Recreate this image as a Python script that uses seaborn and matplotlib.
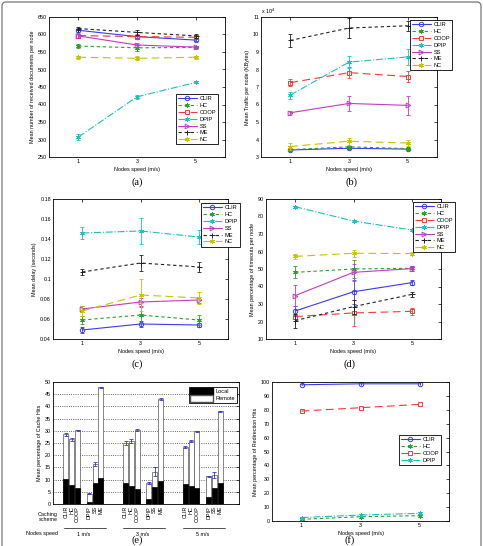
import matplotlib
matplotlib.use("Agg")
import pandas as pd
import matplotlib.pyplot as plt
import seaborn as sns
from matplotlib.lines import Line2D
from matplotlib.patches import Patch, FancyBboxPatch
from matplotlib.transforms import blended_transform_factory


SPEEDS = [1, 3, 5]

# (a) mean number of received documents per node
DOCS = {
	"CLIR": [612, 594, 584],
	"HC": [567, 562, 563],
	"COOP": [597, 594, 592],
	"DPIP": [307, 422, 463],
	"SS": [596, 570, 564],
	"ME": [617, 606, 596],
	"NC": [535, 532, 535],
}
DOCS_ERR = {
	"CLIR": [5, 5, 4], "HC": [5, 8, 4], "COOP": [6, 6, 5], "DPIP": [8, 6, 3],
	"SS": [5, 6, 4], "ME": [5, 8, 5], "NC": [4, 6, 4],
}

# (b) mean traffic per node, x 10^4 KBytes
TRAFFIC = {
	"CLIR": [3.40, 3.50, 3.45],
	"HC": [3.42, 3.58, 3.48],
	"COOP": [7.25, 7.82, 7.60],
	"DPIP": [6.54, 8.42, 8.72],
	"SS": [5.53, 6.06, 5.95],
	"ME": [9.66, 10.37, 10.50],
	"NC": [3.60, 3.90, 3.80],
}
TRAFFIC_ERR = {
	"CLIR": [0.05, 0.06, 0.06], "HC": [0.05, 0.06, 0.06], "COOP": [0.2, 0.3, 0.3],
	"DPIP": [0.2, 0.35, 0.45], "SS": [0.12, 0.45, 0.55], "ME": [0.35, 0.55, 0.3],
	"NC": [0.2, 0.2, 0.15],
}

# (c) mean delay (seconds)
DELAY = {
	"CLIR": [0.049, 0.055, 0.054],
	"HC": [0.059, 0.064, 0.059],
	"DPIP": [0.146, 0.148, 0.142],
	"SS": [0.070, 0.077, 0.079],
	"ME": [0.107, 0.116, 0.112],
	"NC": [0.068, 0.084, 0.081],
}
DELAY_ERR = {
	"CLIR": [0.003, 0.003, 0.002], "HC": [0.004, 0.008, 0.005], "DPIP": [0.006, 0.013, 0.007],
	"SS": [0.003, 0.004, 0.003], "ME": [0.003, 0.008, 0.005], "NC": [0.005, 0.016, 0.006],
}

# (d) mean percentage of timeouts per node
TIMEOUTS = {
	"CLIR": [26.0, 37.0, 42.2],
	"HC": [48.1, 50.0, 50.4],
	"COOP": [22.8, 24.9, 25.8],
	"DPIP": [85.6, 77.4, 72.3],
	"SS": [34.8, 48.1, 50.2],
	"ME": [20.5, 28.5, 35.5],
	"NC": [57.2, 59.0, 58.8],
}
TIMEOUTS_ERR = {
	"CLIR": [3, 7, 1.5], "HC": [3.5, 5, 1.5], "COOP": [1.5, 7.5, 2], "DPIP": [0.5, 0.5, 0.5],
	"SS": [6, 5, 1.5], "ME": [4, 4, 1.5], "NC": [1.5, 2, 1],
}

# (e) cache hits, stacked local + remote
BAR_SCHEMES = ["CLIR", "HC", "COOP", "DPIP", "SS", "ME"]
BAR_SPEEDS = ["1 m/s", "3 m/s", "5 m/s"]
HITS_TOTAL = [
	[28.5, 26.5, 30.3, 4.3, 16.5, 47.8],
	[25.0, 25.8, 30.2, 8.7, 13.2, 43.0],
	[23.4, 25.8, 29.8, 11.3, 12.0, 38.0],
]
HITS_LOCAL = [
	[10.3, 7.7, 6.7, 1.0, 8.5, 10.8],
	[8.8, 7.3, 6.3, 2.0, 6.8, 9.6],
	[8.0, 7.3, 6.4, 2.7, 6.4, 8.5],
]
HITS_ERR = [
	[0.7, 0.5, 0.2, 0.1, 0.8, 0.3],
	[0.8, 1.0, 0.4, 0.3, 1.8, 0.4],
	[0.3, 0.3, 0.2, 0.1, 1.2, 0.3],
]

# (f) mean percentage of redirection hits
REDIRECT = {
	"CLIR": [98.0, 98.7, 98.7],
	"HC": [1.2, 3.1, 3.8],
	"COOP": [79.1, 81.5, 83.9],
	"DPIP": [2.5, 4.3, 5.5],
}

W, H = 483, 546

STYLE = {
	"CLIR": ("#3a3aef", "-", "o", 3.2),
	"HC": ("#2e9e2e", (0, (3, 2.5)), (6, 2, 0), 3.2),
	"COOP": ("#ee3b3b", (0, (7, 4)), "s", 3.4),
	"DPIP": ("#1fbfbf", "-.", (6, 2, 0), 3.2),
	"SS": ("#c03cc0", "-", ">", 3.4),
	"ME": ("#222222", (0, (3, 2.5)), "+", 3.6),
	"NC": ("#c4c400", (0, (7, 4)), (6, 2, 0), 3.4),
}

FS = 3.9


def axes_at(fig, left, top, right, bottom):
	return fig.add_axes([left / W, 1 - bottom / H, (right - left) / W, (bottom - top) / H])


def style_axes(ax):
	ax.tick_params(direction="in", length=2, width=0.5, top=True, right=True,
		labelsize=FS, pad=1.5, colors="black")
	for s in ax.spines.values():
		s.set_linewidth(0.6)
		s.set_color("black")


def add_legend(fig, ax, names, px, py):
	handles = []
	for n in names:
		c, ls, m, ms = STYLE[n]
		handles.append(Line2D([], [], color=c, linestyle=ls, marker=m, markersize=ms,
			markerfacecolor="none", markeredgecolor=c, markeredgewidth=0.7, linewidth=0.8))
	leg = ax.legend(handles, names, loc="upper left", bbox_to_anchor=(px / W, 1 - py / H),
		bbox_transform=fig.transFigure, borderaxespad=0, fontsize=FS + 0.2, frameon=True,
		fancybox=False, edgecolor="black", framealpha=1, handlelength=3.2,
		labelspacing=0.32, borderpad=0.4, handletextpad=0.5)
	leg.get_frame().set_linewidth(0.6)


def line_panel(ax, means, errs, ylim, yticks, ylabel):
	for name, vals in means.items():
		c, ls, m, ms = STYLE[name]
		sns.lineplot(x=SPEEDS, y=vals, ax=ax, color=c, linestyle=ls, marker=m,
			markersize=ms, markerfacecolor="none", markeredgecolor=c,
			markeredgewidth=0.7, linewidth=0.8, legend=False)
		if errs is not None:
			ax.errorbar(SPEEDS, vals, yerr=errs[name], fmt="none", ecolor=c,
				elinewidth=0.6, capsize=1.6, capthick=0.6)
	ax.set_xlim(0, 6)
	ax.set_xticks(SPEEDS)
	ax.set_ylim(*ylim)
	ax.set_yticks(yticks)
	ax.set_yticklabels([f"{v:g}" for v in yticks])
	ax.set_xlabel("Nodes speed (m/s)", fontsize=FS, labelpad=2)
	ax.set_ylabel(ylabel, fontsize=FS, labelpad=2)
	style_axes(ax)


def bar_panel(fig, ax):
	slots = [0, 1, 2, 4, 5, 6]
	rows = []
	for g, speed in enumerate(BAR_SPEEDS):
		for i, scheme in enumerate(BAR_SCHEMES):
			rows.append({
				"pos": g * 10.2 + slots[i],
				"scheme": scheme,
				"speed": speed,
				"total": HITS_TOTAL[g][i],
				"local": HITS_LOCAL[g][i],
				"err": HITS_ERR[g][i],
			})
	df = pd.DataFrame(rows)
	ax.set_axisbelow(True)
	ax.yaxis.grid(True, linestyle=":", color="#333333", linewidth=0.6)
	sns.barplot(data=df, x="pos", y="total", native_scale=True, width=0.85,
		color="white", edgecolor="#555555", linewidth=0.5, errorbar=None, ax=ax,
		saturation=1)
	sns.barplot(data=df, x="pos", y="local", native_scale=True, width=0.85,
		color="black", edgecolor="black", linewidth=0.5, errorbar=None, ax=ax,
		saturation=1)
	ax.errorbar(df["pos"], df["total"], yerr=df["err"], fmt="none", ecolor="#3535c8",
		elinewidth=0.6, capsize=1.4, capthick=0.6)
	ax.set_xlim(-2.2, 29.6)
	ax.set_ylim(0, 50)
	ax.set_yticks(range(0, 51, 5))
	ax.set_xticks(df["pos"])
	ax.set_xticklabels(df["scheme"], rotation=90, fontsize=FS)
	ax.set_xlabel("")
	ax.set_ylabel("Mean percentage of Cache Hits", fontsize=FS, labelpad=2)
	style_axes(ax)
	ax.tick_params(axis="x", length=0, pad=1.5, top=False)
	ax.grid(False, axis="x")
	leg = ax.legend([Patch(facecolor="black", edgecolor="black"),
		Patch(facecolor="white", edgecolor="#555555")], ["Local", "Remote"],
		loc="upper left", bbox_to_anchor=(189 / W, 1 - 387 / H), bbox_transform=fig.transFigure,
		borderaxespad=0, fontsize=FS + 0.2, fancybox=False, edgecolor="black", framealpha=1,
		handlelength=4, handleheight=1.3, labelspacing=0.15, borderpad=0.25, handletextpad=0.4)
	leg.get_frame().set_linewidth(0.6)
	# group labels under the scheme names
	tr = blended_transform_factory(ax.transData, fig.transFigure)
	for g, speed in enumerate(BAR_SPEEDS):
		start = g * 10.2
		ax.plot([start - 0.4, start + 6.8], [1 - 528 / H] * 2, color="#333333",
			linewidth=0.6, transform=tr, clip_on=False)
		ax.text(start + 3, 1 - 534 / H, speed, transform=tr, ha="center", va="center",
			fontsize=FS)
	fig.text(48 / W, 1 - 517 / H, "Caching\nscheme", ha="center", va="center",
		fontsize=FS, linespacing=1.2)
	fig.text(58 / W, 1 - 534 / H, "Nodes speed", ha="right", va="center", fontsize=FS)


def main():
	sns.set_theme(style="white")
	plt.rcParams["font.family"] = ["Liberation Sans", "DejaVu Sans"]
	plt.rcParams["text.color"] = "black"
	plt.rcParams["axes.labelcolor"] = "black"
	fig = plt.figure(figsize=(W / 100, H / 100), dpi=100)

	ax_a = axes_at(fig, 49, 17, 225, 157)
	line_panel(ax_a, DOCS, DOCS_ERR, (250, 650), list(range(250, 651, 50)),
		"Mean number of received documents per node")
	add_legend(fig, ax_a, list(DOCS), 176, 94)

	ax_b = axes_at(fig, 261, 17, 437, 157)
	line_panel(ax_b, TRAFFIC, TRAFFIC_ERR, (3, 11), list(range(3, 12)),
		"Mean Traffic per node (KBytes)")
	ax_b.text(0.0, 1.01, "x 10$^4$", transform=ax_b.transAxes, ha="left", va="bottom",
		fontsize=FS)
	add_legend(fig, ax_b, list(TRAFFIC), 410, 20)

	ax_c = axes_at(fig, 53, 199, 228, 339)
	line_panel(ax_c, DELAY, DELAY_ERR, (0.04, 0.18),
		[0.04, 0.06, 0.08, 0.1, 0.12, 0.14, 0.16, 0.18], "Mean delay (seconds)")
	add_legend(fig, ax_c, list(DELAY), 201, 203)

	ax_d = axes_at(fig, 266, 199, 441, 339)
	line_panel(ax_d, TIMEOUTS, TIMEOUTS_ERR, (10, 90), list(range(10, 91, 10)),
		"Mean percentage of timeouts per node")
	add_legend(fig, ax_d, list(TIMEOUTS), 413, 202)

	ax_e = axes_at(fig, 53, 382, 239, 504)
	bar_panel(fig, ax_e)

	ax_f = axes_at(fig, 272, 382, 449, 521)
	line_panel(ax_f, REDIRECT, None, (0, 100), list(range(0, 101, 10)),
		"Mean percentage of Redirection Hits")
	add_legend(fig, ax_f, list(REDIRECT), 399, 435)

	serif = ["Liberation Serif", "DejaVu Serif"]
	for label, x, y in [("(a)", 137, 182), ("(b)", 352, 182), ("(c)", 137, 364),
			("(d)", 350, 364), ("(e)", 137, 540), ("(f)", 350, 540)]:
		fig.text(x / W, 1 - y / H, label, ha="center", va="center", fontsize=7.5, family=serif)

	fig.patches.append(FancyBboxPatch((2 / W, -0.05), 479 / W, 1.05 - 2 / H,
		boxstyle="round,pad=0,rounding_size=0.008", transform=fig.transFigure,
		fill=False, edgecolor="#777777", linewidth=0.9))

	fig.savefig("out.png", dpi=100)


if __name__ == "__main__":
	main()
